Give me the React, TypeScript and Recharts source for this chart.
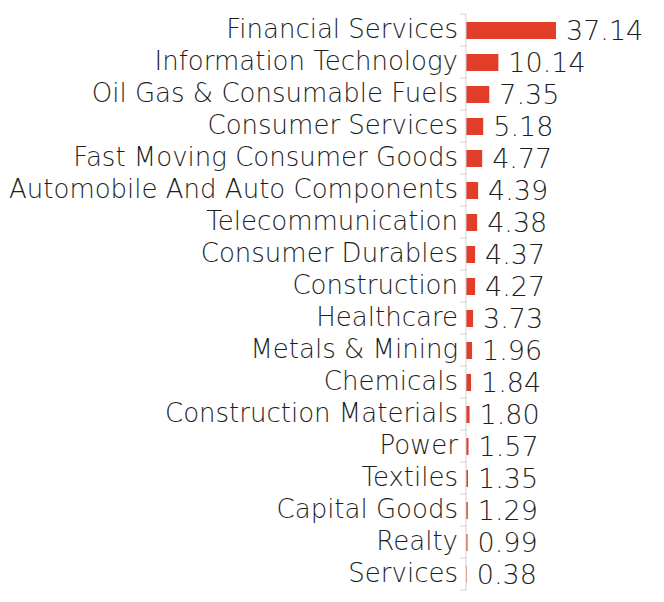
import { BarChart, Bar, XAxis, YAxis, LabelList } from 'recharts';

const sectors = [
    'Financial Services',
    'Information Technology',
    'Oil Gas & Consumable Fuels',
    'Consumer Services',
    'Fast Moving Consumer Goods',
    'Automobile And Auto Components',
    'Telecommunication',
    'Consumer Durables',
    'Construction',
    'Healthcare',
    'Metals & Mining',
    'Chemicals',
    'Construction Materials',
    'Power',
    'Textiles',
    'Capital Goods',
    'Realty',
    'Services',
];
// printed labels (% weight)
const weights = [37.14, 10.14, 7.35, 5.18, 4.77, 4.39, 4.38, 4.37, 4.27, 3.73, 1.96, 1.84, 1.8, 1.57, 1.35, 1.29, 0.99, 0.38];
// bar lengths as drawn in the picture (same units), they don't track the labels exactly
const barLengths = [37.14, 13.36, 9.6, 7.1, 6.68, 5.0, 4.6, 3.76, 3.76, 2.92, 2.5, 2.09, 1.46, 1.04, 0.83, 0.75, 0.63, 0.3];

const data = sectors.map((name, i) => ({ name, bar: barLengths[i], label: weights[i] }));

const AXIS_X = 466;
const BAND = 32;
const FONT = "'DejaVu Sans', sans-serif";

function SectorTick(props: any) {
    const { y, payload, index } = props;
    return (
        <g>
            <line x1={AXIS_X - 6} x2={AXIS_X} y1={y - BAND / 2} y2={y - BAND / 2} stroke="#d0d0d0" />
            {index === sectors.length - 1 && (
                <line x1={AXIS_X - 6} x2={AXIS_X} y1={y + BAND / 2} y2={y + BAND / 2} stroke="#d0d0d0" />
            )}
            <text x={AXIS_X - 8} y={y - 1} dy="0.35em" textAnchor="end" fill="#1e1e1e" fontSize={26} fontWeight={200} fontFamily={FONT}>
                {payload.value}
            </text>
        </g>
    );
}

export default function App() {
    return (
        <div style={{ position: 'absolute', left: 0, top: 0, background: '#fff' }}>
            <BarChart width={664} height={602} data={data} layout="vertical" margin={{ top: 14, right: 108, bottom: 12, left: 0 }}>
                <XAxis type="number" domain={[0, 'dataMax']} hide />
                <YAxis
                    type="category"
                    dataKey="name"
                    width={AXIS_X}
                    axisLine={{ stroke: '#d0d0d0' }}
                    tickLine={false}
                    interval={0}
                    tick={<SectorTick />}
                />
                <Bar dataKey="bar" fill="#E23D28" barSize={17} isAnimationActive={false}>
                    <LabelList
                        dataKey="label"
                        position="right"
                        offset={10}
                        formatter={(v: any) => Number(v).toFixed(2)}
                        style={{ fill: '#1e1e1e', fontSize: 27, fontWeight: 200, fontFamily: FONT }}
                    />
                </Bar>
            </BarChart>
        </div>
    );
}
